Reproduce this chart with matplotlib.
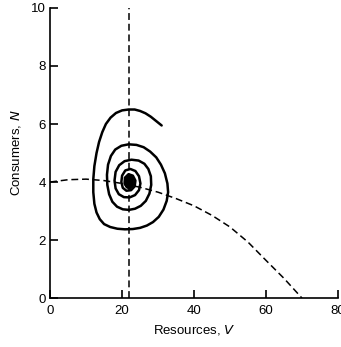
import matplotlib
matplotlib.use("Agg")
import matplotlib.pyplot as plt
from matplotlib.patches import Ellipse

plt.rcParams['font.family'] = ['Liberation Sans', 'DejaVu Sans']

# Zero-growth isoclines
consumer_isocline_v = [22, 22]
consumer_isocline_n = [0, 10]

resource_isocline_v = [0, 5, 10, 15, 20, 25, 30, 35, 40, 45, 50, 55, 60, 65, 70]
resource_isocline_n = [4.0, 4.08, 4.1, 4.05, 3.95, 3.82, 3.65, 3.43, 3.18, 2.85, 2.45, 1.93, 1.3, 0.68, 0.0]

# Trajectory (spiralling into the equilibrium)
traj_v = [31.0, 29.5, 28.0, 26.5, 25.0, 23.5, 21.8, 20.0, 18.3, 16.8, 15.5, 14.5, 13.6, 12.9,
          12.3, 12.0, 12.0, 12.3, 12.9, 13.8, 15.0, 16.7, 18.7, 20.8, 23.0, 25.0, 26.9, 28.6,
          30.2, 31.5, 32.4, 32.8, 32.6, 31.9, 30.8, 29.5, 27.8, 26.0, 24.0, 21.8, 19.8, 18.1,
          16.9, 16.1, 15.8, 15.9, 16.4, 17.3, 18.6, 20.2, 21.9, 23.6, 25.2, 26.6, 27.6, 28.1,
          28.0, 27.3, 26.2, 24.6, 22.6, 20.7, 19.2, 18.2, 17.9, 18.2, 19.1, 20.5, 22.1, 23.6,
          24.7, 25.1, 24.7, 23.7, 22.3, 20.9, 20.0, 19.8, 20.2, 21.2, 22.5, 23.5, 23.7, 23.0,
          21.8, 20.8, 20.7, 21.4]
traj_n = [5.95, 6.1, 6.25, 6.37, 6.45, 6.5, 6.5, 6.47, 6.38, 6.22, 6.0, 5.72, 5.38, 5.0,
          4.55, 4.1, 3.65, 3.25, 2.95, 2.72, 2.55, 2.45, 2.39, 2.37, 2.38, 2.42, 2.5, 2.62,
          2.8, 3.05, 3.35, 3.65, 3.95, 4.3, 4.6, 4.85, 5.05, 5.2, 5.28, 5.3, 5.25, 5.12,
          4.9, 4.6, 4.25, 3.9, 3.58, 3.32, 3.15, 3.06, 3.04, 3.08, 3.18, 3.35, 3.6, 3.9,
          4.2, 4.45, 4.63, 4.74, 4.77, 4.72, 4.58, 4.35, 4.05, 3.78, 3.58, 3.48, 3.47, 3.55,
          3.72, 3.95, 4.2, 4.38, 4.45, 4.4, 4.22, 4.0, 3.8, 3.7, 3.72, 3.85, 4.05, 4.22,
          4.27, 4.15, 3.95, 3.82]

# Equilibrium blob (centre, width in V, height in N)
equilibrium_v = 22.0
equilibrium_n = 4.0
equilibrium_w = 2.6
equilibrium_h = 0.45

x_ticks = [0, 20, 40, 60, 80]
y_ticks = [0, 2, 4, 6, 8, 10]

fig = plt.figure(figsize=(3.41, 3.47), dpi=100)
ax = fig.add_axes([0.147, 0.141, 0.844, 0.836])

dash = (0, (4.5, 2.5))
ax.plot(consumer_isocline_v, consumer_isocline_n, color='black', lw=1.1, linestyle=dash)
ax.plot(resource_isocline_v, resource_isocline_n, color='black', lw=1.1, linestyle=dash)
ax.plot(traj_v, traj_n, color='black', lw=1.8, solid_capstyle='round', solid_joinstyle='round')
ax.add_patch(Ellipse((equilibrium_v, equilibrium_n), equilibrium_w, equilibrium_h,
                     facecolor='black', edgecolor='black', zorder=3))

ax.set_xlim(0, 80)
ax.set_ylim(0, 10)
ax.set_xticks(x_ticks)
ax.set_yticks(y_ticks)
ax.spines['top'].set_visible(False)
ax.spines['right'].set_visible(False)
for s in ['left', 'bottom']:
    ax.spines[s].set_linewidth(1.2)
ax.tick_params(axis='both', direction='in', length=6, width=1.2, labelsize=9.5)
ax.tick_params(axis='x', pad=5)
ax.tick_params(axis='y', pad=3)

ax.set_xlabel('Resources, $\\mathit{V}$', fontsize=9.5, labelpad=4)
ax.set_ylabel('Consumers, $\\mathit{N}$', fontsize=9.5, labelpad=6)

fig.savefig('out.png', dpi=100)
